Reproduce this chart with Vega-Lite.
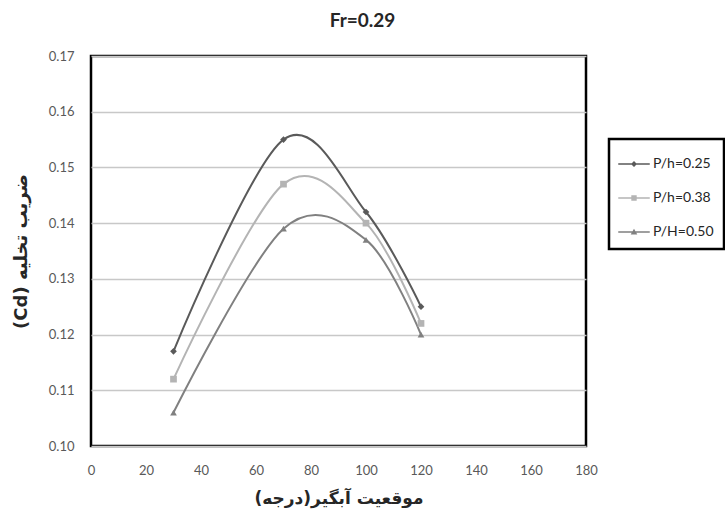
{
  "$schema": "https://vega.github.io/schema/vega-lite/v6.json",
  "width": 495,
  "height": 390,
  "autosize": {"type": "none"},
  "padding": {"left": 91, "top": 56, "right": 139, "bottom": 69},
  "background": "white",
  "config": {
    "view": {"stroke": "#000000", "strokeWidth": 2.5},
    "font": "Lato"
  },
  "title": {
    "text": "Fr=0.29",
    "font": "Lato",
    "fontSize": 19,
    "fontWeight": "bold",
    "color": "#262626",
    "anchor": "middle",
    "dx": 24,
    "offset": 19
  },
  "data": {
    "values": [
      {"series": "P/h=0.25", "x": 30, "cd": 0.117},
      {"series": "P/h=0.25", "x": 70, "cd": 0.155},
      {"series": "P/h=0.25", "x": 100, "cd": 0.142},
      {"series": "P/h=0.25", "x": 120, "cd": 0.125},
      {"series": "P/h=0.38", "x": 30, "cd": 0.112},
      {"series": "P/h=0.38", "x": 70, "cd": 0.147},
      {"series": "P/h=0.38", "x": 100, "cd": 0.140},
      {"series": "P/h=0.38", "x": 120, "cd": 0.122},
      {"series": "P/H=0.50", "x": 30, "cd": 0.106},
      {"series": "P/H=0.50", "x": 70, "cd": 0.139},
      {"series": "P/H=0.50", "x": 100, "cd": 0.137},
      {"series": "P/H=0.50", "x": 120, "cd": 0.120}
    ]
  },
  "encoding": {
    "x": {
      "field": "x",
      "type": "quantitative",
      "scale": {"domain": [0, 180], "nice": false},
      "axis": {
        "values": [0, 20, 40, 60, 80, 100, 120, 140, 160, 180],
        "grid": false,
        "ticks": false,
        "domain": false,
        "labelFlush": false,
        "labelFont": "Lato",
        "labelFontSize": 13,
        "labelColor": "#595959",
        "labelPadding": 18,
        "title": "موقعیت آبگیر(درجه)\u200f",
        "titleFont": "DejaVu Sans",
        "titleFontSize": 17,
        "titleFontWeight": "bold",
        "titleColor": "#262626",
        "titlePadding": 13
      }
    },
    "y": {
      "field": "cd",
      "type": "quantitative",
      "scale": {"domain": [0.10, 0.17], "nice": false, "zero": false},
      "axis": {
        "values": [0.10, 0.11, 0.12, 0.13, 0.14, 0.15, 0.16, 0.17],
        "format": ".2f",
        "grid": true,
        "gridColor": "#c8c8c8",
        "gridWidth": 1.5,
        "ticks": false,
        "domain": false,
        "labelFont": "Lato",
        "labelFontSize": 13,
        "labelColor": "#595959",
        "labelPadding": 17,
        "title": "(Cd) ضریب تخلیه",
        "titleFont": "DejaVu Sans",
        "titleFontSize": 18,
        "titleFontWeight": "bold",
        "titleColor": "#262626",
        "titlePadding": 18
      }
    }
  },
  "layer": [
    {
      "mark": {"type": "line", "interpolate": "cardinal", "strokeWidth": 2},
      "encoding": {
        "color": {
          "field": "series",
          "type": "nominal",
          "scale": {"domain": ["P/h=0.25", "P/h=0.38", "P/H=0.50"], "range": ["#5a5a5a", "#b4b4b4", "#808080"]},
          "legend": null
        }
      }
    },
    {
      "mark": {"type": "point", "filled": true, "opacity": 1},
      "encoding": {
        "color": {
          "field": "series",
          "type": "nominal",
          "scale": {"domain": ["P/h=0.25", "P/h=0.38", "P/H=0.50"], "range": ["#5a5a5a", "#b4b4b4", "#808080"]},
          "legend": null
        },
        "shape": {
          "field": "series",
          "type": "nominal",
          "scale": {"domain": ["P/h=0.25", "P/h=0.38", "P/H=0.50"], "range": ["diamond", "square", "triangle-up"]},
          "legend": null
        },
        "size": {"value": 45}
      }
    },
    {
      "mark": {"type": "point", "filled": true, "opacity": 0},
      "encoding": {
        "color": {
          "field": "series",
          "type": "nominal",
          "scale": {"domain": ["P/h=0.25", "P/h=0.38", "P/H=0.50"], "range": ["#5a5a5a", "#b4b4b4", "#808080"]},
          "legend": {
            "title": null,
            "orient": "none",
            "legendX": 518,
            "legendY": 83,
            "fillColor": "white",
            "strokeColor": "#000000",
            "padding": 10,
            "rowPadding": 12,
            "symbolSize": 900,
            "symbolStrokeWidth": 0,
            "symbolOpacity": 1,
            "labelOffset": 4,
            "labelFont": "Lato",
            "labelFontSize": 14,
            "labelColor": "#262626",
            "encode": {"legend": {"update": {"strokeWidth": {"value": 2.5}}}}
          }
        },
        "shape": {
          "field": "series",
          "type": "nominal",
          "scale": {
            "domain": ["P/h=0.25", "P/h=0.38", "P/H=0.50"],
            "range": [
              "M-1.05,-0.05H1.05V0.05H-1.05Z M0,-0.2L0.2,0L0,0.2L-0.2,0Z",
              "M-1.05,-0.05H1.05V0.05H-1.05Z M-0.18,-0.18H0.18V0.18H-0.18Z",
              "M-1.05,-0.05H1.05V0.05H-1.05Z M0,-0.22L0.22,0.17H-0.22Z"
            ]
          },
          "legend": {
            "title": null,
            "orient": "none",
            "legendX": 518,
            "legendY": 83,
            "fillColor": "white",
            "strokeColor": "#000000",
            "padding": 10,
            "rowPadding": 12,
            "symbolSize": 900,
            "symbolStrokeWidth": 0,
            "symbolOpacity": 1,
            "labelOffset": 4,
            "labelFont": "Lato",
            "labelFontSize": 14,
            "labelColor": "#262626",
            "encode": {"legend": {"update": {"strokeWidth": {"value": 2.5}}}}
          }
        }
      }
    }
  ],
  "resolve": {"scale": {"shape": "independent", "color": "independent"}}
}
